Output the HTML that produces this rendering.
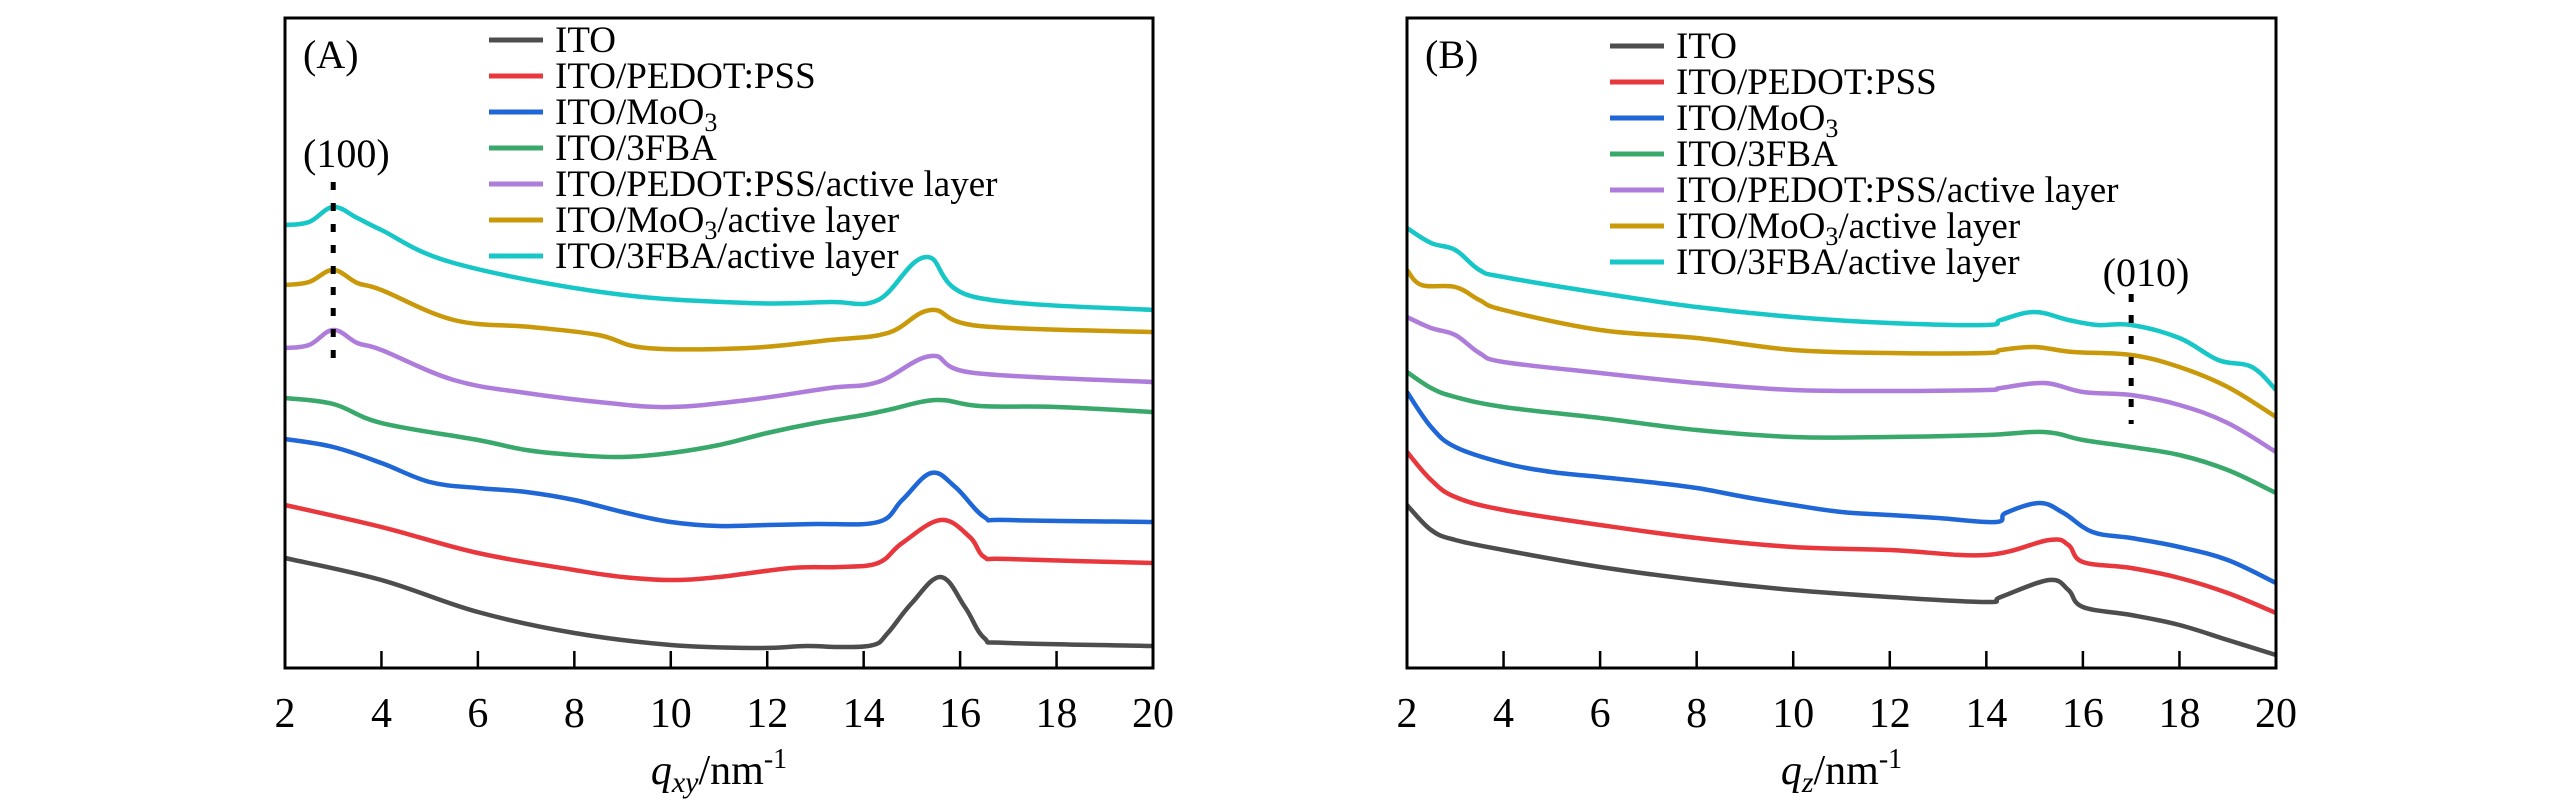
<!DOCTYPE html>
<html><head><meta charset="utf-8"><style>
html,body{margin:0;padding:0;background:#fff;}
svg{display:block;font-family:"Liberation Serif",serif;}
</style></head><body>
<svg id="fig" width="2567" height="803" viewBox="0 0 2567 803" xmlns="http://www.w3.org/2000/svg"></svg>
<script>
const qTicks = [2,4,6,8,10,12,14,16,18,20];
const tickLabels = ["2","4","6","8","10","12","14","16","18","20"];
const seriesNames = ["ITO","ITO/PEDOT:PSS","ITO/MoO3","ITO/3FBA","ITO/PEDOT:PSS/active layer","ITO/MoO3/active layer","ITO/3FBA/active layer"];
const seriesColors = ["#4d4d4d","#e8383d","#1f66d6","#38a86b","#ae7ddb","#c9990a","#17c6c6"];

// Panel A (q_xy) data: q values and intensity (a.u.)
const aItoQ = [2,4,6,8,10,11.8,12.8,13.5,14.2,14.5,15,15.6,16.1,16.5,17,20];
const aItoI = [110,88,56,35,23,20,22,21,23,35,65,91,61,30,25,22];
const aPedotQ = [2,4,6,8,9,10,11,12.5,13.5,14.3,14.8,15.6,16.2,16.5,17,20];
const aPedotI = [163,141,115,98,91,88,91,100,101,105,125,148,131,111,109,105];
const aMoQ = [2,3,4,5,6,7,8,9,10,11,12,13,14.3,14.8,15.4,15.9,16.5,17,20];
const aMoI = [229,221,205,186,180,176,168,156,146,142,143,144,146,168,195,181,151,148,146];
const aFbaQ = [2,3,4,6,7,8,9,10,11,12,13,14,14.5,15.5,16.4,18,20];
const aFbaI = [270,264,245,228,218,213,211,215,223,235,245,253,258,268,262,261,256];
const aPedotActQ = [2,2.5,3,3.5,4,5.5,7,8.7,10,11.6,13.3,14.3,15.4,16.3,20];
const aPedotActI = [320,323,338,325,318,288,275,265,261,268,280,286,312,295,286];
const aMoActQ = [2,2.5,3,3.5,4,5.5,7.1,8.5,9.5,11.6,13.3,14.5,15.4,16.4,20];
const aMoActI = [383,386,398,385,378,348,341,333,320,320,328,335,358,342,336];
const aFbaActQ = [2,2.5,3,3.5,4,5.5,8.7,11.6,13.3,14.3,15.3,16.3,20];
const aFbaActI = [443,446,461,450,438,405,375,365,366,368,411,371,358];

// Panel B (q_z) data
const bItoQ = [2,2.5,3,4,6,8,10,12,14,14.3,15.3,15.7,16,17,18,19,20];
const bItoI = [163,138,128,118,101,88,78,71,66,71,88,78,61,53,43,28,13];
const bPedotQ = [2,2.5,3,4,6,8,10,12,14,15.3,15.7,16,17,18,19,20];
const bPedotI = [216,188,171,158,143,130,121,118,113,128,123,106,100,90,75,55];
const bMoQ = [2,2.5,3,4,5,6,7,8,9,10,11,12,13,14.2,14.4,15.1,15.6,16.2,17,18,19,20];
const bMoI = [276,241,221,205,196,191,186,180,171,163,156,153,150,146,155,165,155,136,130,121,108,85];
const bFbaQ = [2,2.5,3,4,6,8,10,12,14,15.2,16,17,18,19,20];
const bFbaI = [296,280,271,261,250,238,231,231,233,236,228,221,213,198,175];
const bPedotActQ = [2,2.5,3,3.5,4,6,8,10,12,14,14.3,15.2,16,17,18,19,20];
const bPedotActI = [351,340,333,315,306,295,285,278,277,278,280,285,276,273,263,245,216];
const bMoActQ = [2,2.3,3,3.5,4,6,8,10,12,14,14.3,15,15.8,17,18,19,20];
const bMoActI = [398,383,381,368,358,338,330,318,315,315,318,321,316,313,301,281,251];
const bFbaActQ = [2,2.5,3,3.5,4,6,8,10,12,14,14.3,15,15.7,16.3,17,18,18.8,19.5,20];
const bFbaActI = [440,425,418,398,391,375,361,351,345,343,348,356,348,343,343,330,308,301,278];

const peakA = 3;
const peakB = 17;

const NS = "http://www.w3.org/2000/svg";
const svg = document.getElementById("fig");
function mk(tag, attrs, parent){const e=document.createElementNS(NS,tag);for(const k in attrs)e.setAttribute(k,attrs[k]);(parent||svg).appendChild(e);return e;}

const TOP=18, BOT=668, IMAX=650;
function drawPanel(opts){
  const L=opts.left, R=opts.right;
  const g = mk("g",{});
  
  
  const xs = q => L + (q-2)/18*(R-L);
  const ys = v => BOT - v/IMAX*(BOT-TOP);
  // series
  opts.series.forEach((s,i)=>{
    const pts = s[0].map((q,k)=>[xs(q), ys(s[1][k])]);
    let d = "M"+pts[0][0].toFixed(1)+","+pts[0][1].toFixed(1);
    for(let k=0;k<pts.length-1;k++){
      const p0=pts[Math.max(0,k-1)],p1=pts[k],p2=pts[k+1],p3=pts[Math.min(pts.length-1,k+2)];
      const t=0.18;
      const c1=[p1[0]+(p2[0]-p0[0])*t,p1[1]+(p2[1]-p0[1])*t];
      const c2=[p2[0]-(p3[0]-p1[0])*t,p2[1]-(p3[1]-p1[1])*t];
      d+=" C"+c1[0].toFixed(1)+","+c1[1].toFixed(1)+" "+c2[0].toFixed(1)+","+c2[1].toFixed(1)+" "+p2[0].toFixed(1)+","+p2[1].toFixed(1);
    }
    const p = mk("path",{d:d,fill:"none",stroke:seriesColors[i],"stroke-width":4.5,"stroke-linejoin":"round"},g);
    
    
  });
  // frame
  const fr = mk("rect",{x:L,y:TOP,width:R-L,height:BOT-TOP,fill:"none",stroke:"#000","stroke-width":3},g);
  
  
  // ticks
  qTicks.forEach((q,i)=>{
    if(i>0 && i<qTicks.length-1){
      const t = mk("line",{x1:xs(q),x2:xs(q),y1:BOT,y2:BOT-17,stroke:"#000","stroke-width":2.5},g);
      
      
    }
    const tl = mk("text",{x:xs(q),y:727,"font-size":42,"text-anchor":"middle"},g);
    tl.textContent = tickLabels[i];
    
    
  });
  // dotted peak marker
  const dm = mk("line",{x1:xs(opts.peak),x2:xs(opts.peak),y1:opts.peakY1,y2:opts.peakY2,stroke:"#000","stroke-width":5,"stroke-dasharray":"8 13"},g);
  
  
  const pl = mk("text",{x:opts.peakLabelX,y:opts.peakLabelY,"font-size":40,"text-anchor":opts.peakAnchor},g);
  pl.textContent = opts.peakLabel;
  
  
  // panel label
  const lab = mk("text",{x:L+18,y:TOP+50,"font-size":40},g);
  lab.textContent = opts.label;
  
  
  // legend
  seriesNames.forEach((n,i)=>{
    const y = opts.legendY + i*36;
    const ln = mk("line",{x1:opts.legendX,x2:opts.legendX+54,y1:y,y2:y,stroke:seriesColors[i],"stroke-width":5},g);
    
    
    const tx = mk("text",{x:opts.legendX+66,y:y+12,"font-size":37},g);
    
    
    if(n.indexOf("MoO3")>=0){
      const parts = n.split("MoO3");
      tx.appendChild(document.createTextNode(parts[0]+"MoO"));
      const sub = mk("tspan",{"font-size":26,dy:7},tx); sub.textContent="3";
      const rest = mk("tspan",{dy:-7},tx); rest.textContent=parts[1]||"";
    } else tx.textContent = n;
  });
  // axis title
  const at = mk("text",{x:(L+R)/2,y:784,"font-size":42,"text-anchor":"middle"},g);
  
  
  const q = mk("tspan",{"font-style":"italic"},at); q.textContent="q";
  const sb = mk("tspan",{"font-style":"italic","font-size":30,dy:8},at); sb.textContent=opts.sub;
  const u = mk("tspan",{dy:-8},at); u.textContent="/nm";
  const ex = mk("tspan",{"font-size":28,dy:-16},at); ex.textContent="-1";
}

drawPanel({id:"panel-a",left:285,right:1153,label:"(A)",sub:"xy",
  series:[[aItoQ,aItoI],[aPedotQ,aPedotI],[aMoQ,aMoI],[aFbaQ,aFbaI],[aPedotActQ,aPedotActI],[aMoActQ,aMoActI],[aFbaActQ,aFbaActI]],
  peak:peakA,peakY1:182,peakY2:362,peakLabel:"(100)",peakLabelX:303,peakLabelY:167,peakAnchor:"start",
  legendX:489,legendY:40});
drawPanel({id:"panel-b",left:1407,right:2276,label:"(B)",sub:"z",
  series:[[bItoQ,bItoI],[bPedotQ,bPedotI],[bMoQ,bMoI],[bFbaQ,bFbaI],[bPedotActQ,bPedotActI],[bMoActQ,bMoActI],[bFbaActQ,bFbaActI]],
  peak:peakB,peakY1:294,peakY2:424,peakLabel:"(010)",peakLabelX:2146,peakLabelY:286,peakAnchor:"middle",
  legendX:1610,legendY:46});
</script>
</body></html>
